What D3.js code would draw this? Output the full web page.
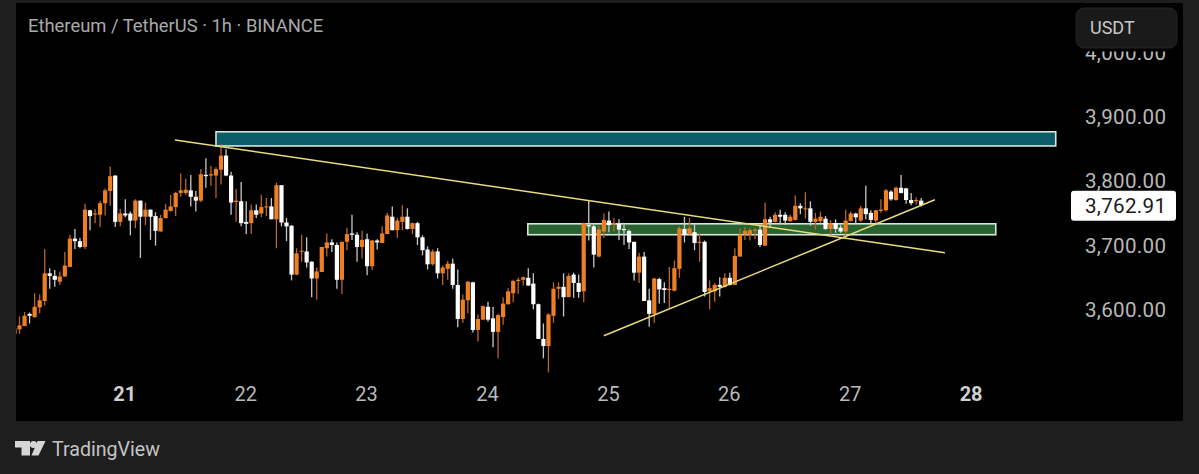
<!DOCTYPE html>
<html><head><meta charset="utf-8">
<script src="https://cdn.jsdelivr.net/npm/d3@7"></script>
<style>html,body{margin:0;padding:0;background:#1e1e1e}svg{display:block}text{font-family:Roboto,sans-serif}</style>
</head><body><div id="chart"></div>
<script>
const title = "Ethereum / TetherUS · 1h · BINANCE";
const unitLabel = "USDT";
const brandLabel = "TradingView";
const lastPrice = 3762.91;
const firstHour = -22; // hours relative to the start of day 21
const opens = [3563,
3570,3575,3594,3589,3604,3614,3657,3653,3644,3652,
3667,3711,3707,3698,3755,3749,3748,3766,3785,3809,
3737,3750,3750,3739,3770,3745,3756,3746,3722,3743,
3754,3760,3782,3782,3786,3776,3770,3810,3809,3809,
3818,3840,3809,3768,3769,3737,3735,3755,3750,3760,
3761,3741,3794,3736,3731,
3655,3691,3691,3675,3649,3659,3696,3705,3701,3647,
3706,3719,3717,3698,3710,3668,3708,3704,3718,3745,
3724,3737,3745,3726,3735,3713,3694,3671,3691,3657,
3664,3672,3639,3586,3615,3643,3569,3585,3605,3587,
3566,3589,3609,3626,3645,3647,3650,3641,3609,3555,
3544,3591,3633,3636,3620,3655,3642,
3629,3732,3730,3683,3722,3739,3733,3734,3726,3723,
3706,3658,3683,3615,3594,3648,3634,3631,3630,3664,
3726,3718,3721,3705,3706,3629,3629,3639,3636,3650,
3639,3683,3717,3717,3724,
3725,3700,3741,3737,3748,3748,3738,3740,3762,3757,
3758,3737,3738,3742,3726,3735,3728,3722,3738,3750,
3739,3758,3751,3739,3754,3755,3784,3771,3790,3789,
3771,3769,3770];
const highs = [3571,
3590,3597,3596,3626,3624,3695,3665,3662,3660,3690,
3717,3726,3712,3765,3756,3757,3770,3789,3823,3809,
3757,3772,3753,3772,3770,3767,3756,3752,3748,3765,
3779,3784,3812,3804,3810,3785,3819,3836,3824,3822,
3858,3850,3815,3788,3799,3769,3764,3764,3779,3774,
3774,3798,3794,3743,3732,
3696,3717,3713,3676,3666,3698,3719,3710,3705,3706,
3728,3748,3721,3723,3719,3709,3710,3730,3751,3761,
3743,3763,3758,3736,3737,3716,3699,3694,3696,3669,
3676,3680,3663,3624,3645,3644,3593,3607,3613,3605,
3594,3620,3634,3647,3650,3652,3665,3657,3610,3579,
3595,3643,3643,3657,3657,3658,3655,
3736,3770,3732,3731,3750,3753,3743,3741,3733,3725,
3706,3689,3690,3633,3650,3650,3643,3667,3677,3730,
3745,3743,3734,3719,3708,3646,3642,3651,3657,3658,
3696,3727,3729,3727,3727,
3731,3767,3745,3752,3756,3752,3748,3778,3766,3783,
3769,3751,3753,3746,3740,3741,3732,3756,3753,3751,
3762,3793,3755,3756,3772,3788,3786,3792,3810,3790,
3782,3775,3774];
const lows = [3563,
3563,3575,3579,3588,3595,3607,3633,3636,3639,3652,
3667,3695,3696,3695,3724,3735,3729,3747,3762,3729,
3730,3744,3716,3727,3681,3732,3709,3700,3722,3742,
3753,3746,3776,3779,3761,3753,3768,3790,3793,3774,
3795,3808,3748,3737,3730,3718,3718,3743,3744,3746,
3741,3696,3730,3707,3646,
3654,3675,3666,3620,3616,3659,3683,3690,3633,3625,
3693,3709,3675,3680,3654,3662,3694,3704,3718,3724,
3712,3724,3725,3718,3701,3685,3663,3669,3649,3639,
3647,3633,3573,3580,3595,3565,3551,3585,3582,3542,
3525,3577,3608,3612,3625,3638,3638,3601,3555,3525,
3503,3580,3617,3590,3620,3619,3619,
3612,3708,3666,3682,3712,3721,3722,3709,3701,3695,
3646,3642,3614,3574,3580,3610,3611,3601,3629,3650,
3705,3717,3693,3675,3621,3601,3613,3621,3635,3638,
3639,3683,3709,3708,3710,
3698,3700,3728,3736,3733,3732,3737,3739,3749,3742,
3731,3725,3735,3724,3714,3720,3720,3710,3738,3734,
3737,3741,3735,3734,3751,3753,3770,3770,3781,3765,
3763,3764,3761];
const closes = [3571,
3576,3591,3591,3605,3615,3657,3653,3647,3652,3669,
3711,3707,3698,3756,3746,3750,3766,3786,3808,3737,
3750,3747,3739,3770,3745,3756,3745,3723,3743,3756,
3761,3782,3786,3787,3776,3770,3811,3808,3811,3819,
3840,3809,3767,3770,3735,3734,3755,3748,3760,3761,
3741,3794,3736,3730,3655,
3688,3692,3674,3649,3660,3698,3705,3701,3647,3706,
3718,3717,3698,3709,3668,3708,3705,3719,3747,3724,
3739,3745,3726,3735,3713,3693,3671,3691,3657,3666,
3672,3639,3586,3616,3644,3569,3586,3606,3585,3566,
3592,3610,3629,3645,3647,3651,3638,3609,3555,3544,
3593,3633,3636,3620,3653,3642,3628,
3735,3730,3686,3725,3740,3732,3735,3725,3724,3705,
3658,3683,3614,3594,3649,3632,3631,3633,3665,3727,
3717,3727,3704,3706,3628,3634,3639,3636,3650,3639,
3684,3717,3723,3724,3725,
3701,3741,3736,3748,3745,3739,3745,3762,3758,3758,
3737,3742,3745,3726,3735,3726,3722,3739,3750,3744,
3758,3749,3740,3755,3756,3786,3772,3790,3782,3771,
3766,3771,3762.91];
const priceTicks = [3600,3700,3800,3900,4000];
const dayTicks = [21,22,23,24,25,26,27,28];
const boldDays = [21,28];
// drawings: [hour, price] end points
const resistanceBox = [[18,3877],[184.7,3855]];
const supportBox = [[79.9,3734],[172.8,3717]];
const fallingLine = [[9.86,3864.4],[162.7,3689]];
const risingLine = [[95,3560],[160.7,3771.3]];

const W=1199,H=474;
const C={bg:"#1e1e1e",panel:"#000",up:"#ee7f25",upWick:"#b8662a",down:"#ffffff",downWick:"#c9c9c9",
  axis:"#b9b9b9",title:"#a9a9a9",line:"#e8dc7c",boxEdge:"#d6e6dc",teal:"#0b5d68",green:"#27622f"};
const P={left:16,right:1183,top:3,bottom:421};

const x=d3.scaleLinear().domain([0,24]).range([125.3,246.2]);
const y=d3.scaleLinear().domain([3600,3900]).range([310,117]);

const svg=d3.select("#chart").append("svg").attr("width",W).attr("height",H).style("background",C.bg);
const defs=svg.append("defs");
defs.append("clipPath").attr("id","pane").append("rect")
  .attr("x",P.left).attr("y",P.top).attr("width",P.right-P.left).attr("height",P.bottom-P.top);
svg.append("rect").attr("x",P.left).attr("y",P.top).attr("width",P.right-P.left).attr("height",P.bottom-P.top).attr("fill",C.panel);

// axes
const yAxis=d3.axisRight(y).tickValues(priceTicks).tickFormat(d3.format(",.2f")).tickSize(0).tickPadding(0);
const yG=svg.append("g").attr("transform","translate(1085,0)").call(yAxis);
yG.select(".domain").remove();
yG.selectAll("text").attr("fill",C.axis).style("font-size","20.6px").style("letter-spacing","0.3px");

const xAxis=d3.axisBottom(x).tickValues(dayTicks.map(d=>(d-21)*24)).tickFormat(h=>String(h/24+21)).tickSize(0).tickPadding(0);
const xG=svg.append("g").attr("transform","translate(-1,387)").call(xAxis);
xG.select(".domain").remove();
xG.selectAll("text").style("font-size","20px")
  .style("font-weight",h=>boldDays.includes(h/24+21)?700:400)
  .attr("fill",h=>boldDays.includes(h/24+21)?"#cfcfcf":C.axis);

// boxes
const pane=svg.append("g").attr("clip-path","url(#pane)");
function box(b,fill){
  pane.append("rect").attr("x",x(b[0][0])).attr("y",y(b[0][1]))
    .attr("width",x(b[1][0])-x(b[0][0])).attr("height",y(b[1][1])-y(b[0][1]))
    .attr("fill",fill).attr("stroke",C.boxEdge).attr("stroke-width",1.6);
}
box(resistanceBox,C.teal);
box(supportBox,C.green);

// candles
const candles=opens.map((o,i)=>({h:firstHour+i,o,hi:highs[i],lo:lows[i],c:closes[i]}));
const bw=4.2;
const g=pane.selectAll("g.c").data(candles).join("g").attr("class","c");
g.append("line").attr("x1",d=>x(d.h)).attr("x2",d=>x(d.h)).attr("y1",d=>y(d.hi)).attr("y2",d=>y(d.lo))
  .attr("stroke",d=>d.c>=d.o?C.upWick:C.downWick).attr("stroke-width",1.3);
g.append("rect").attr("x",d=>x(d.h)-bw/2).attr("width",bw)
  .attr("y",d=>y(Math.max(d.o,d.c))).attr("height",d=>Math.max(1,Math.abs(y(d.o)-y(d.c))))
  .attr("fill",d=>d.c>=d.o?C.up:C.down);

// trend lines
const ln=d3.line().x(d=>x(d[0])).y(d=>y(d[1]));
[fallingLine,risingLine].forEach(l=>pane.append("path").attr("d",ln(l)).attr("fill","none").attr("stroke",C.line).attr("stroke-width",1.5));

// title
svg.append("text").attr("x",28).attr("y",32).attr("fill",C.title).style("font-size","18.4px").text(title);

// USDT control over the top of the axis
svg.append("rect").attr("x",1070).attr("y",P.top).attr("width",P.right-1070).attr("height",48.5).attr("fill",C.panel);
svg.append("rect").attr("x",1076).attr("y",8).attr("width",101).attr("height",40).attr("rx",8).attr("fill","#1a1a1a").attr("stroke","#242424");
svg.append("text").attr("x",1090).attr("y",34).attr("fill","#c8c8c8").style("font-size","18px").text(unitLabel);

// last price label
const ly=y(lastPrice);
svg.append("rect").attr("x",1071).attr("y",ly-14.5).attr("width",105).attr("height",30).attr("rx",3).attr("fill","#fff");
svg.append("text").attr("x",1085).attr("y",ly+7.5).attr("fill","#1a1a1a").style("font-size","20.6px").style("letter-spacing","0.3px").text(d3.format(",.2f")(lastPrice));

// brand
const logo=svg.append("g").attr("fill","#d6d6d6");
logo.append("polygon").attr("points","15,441 30,441 30,455.5 21.5,455.5 21.5,447.5 15,447.5");
logo.append("circle").attr("cx",33.5).attr("cy",444.5).attr("r",3.5);
logo.append("polygon").attr("points","37.5,441 45.5,441 38.5,455.5 31.5,455.5");
svg.append("text").attr("x",52).attr("y",455.5).attr("fill","#c4c4c4").style("font-size","19.6px").text(brandLabel);
</script></body></html>
